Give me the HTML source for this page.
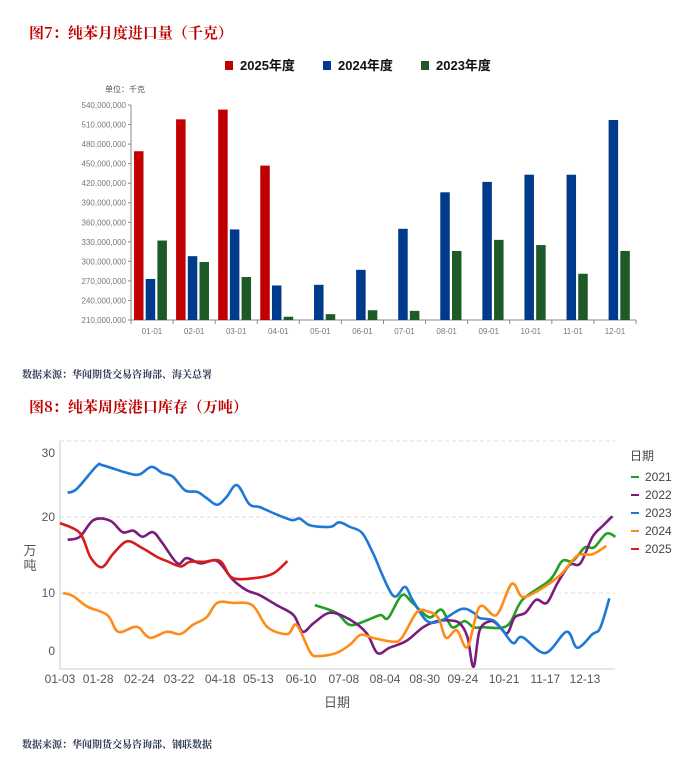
<!DOCTYPE html>
<html><head><meta charset="utf-8">
<style>
body{margin:0;width:692px;height:762px;background:#fff;overflow:hidden;font-family:"Liberation Sans","Noto Sans CJK SC",sans-serif;}
svg{position:absolute;left:0;top:0}
.t{font-family:"Noto Serif CJK SC","Noto Sans CJK SC",serif;font-weight:bold}
</style></head>
<body>
<svg id="s" width="692" height="762" xmlns="http://www.w3.org/2000/svg">
<text x="29" y="38" class="t" font-size="15" fill="#c00000">图7：纯苯月度进口量（千克）</text>
<g font-size="13" font-weight="bold" fill="#111">
<rect x="225" y="61" width="8" height="9" fill="#c00000"/><text x="240" y="70">2025年度</text>
<rect x="323" y="61" width="8" height="9" fill="#003a8c"/><text x="338" y="70">2024年度</text>
<rect x="421" y="61" width="8" height="9" fill="#1e5a28"/><text x="436" y="70">2023年度</text>
</g>
<text x="105" y="92" font-size="8" fill="#555">单位：千克</text>
<g id="bars"></g>
<text x="22" y="378" class="t" font-size="10" fill="#2a3550">数据来源：华闻期货交易咨询部、海关总署</text>
<text x="29" y="412" class="t" font-size="15" fill="#c00000">图8：纯苯周度港口库存（万吨）</text>
<g id="lines"></g>
<text x="22" y="748" class="t" font-size="10" fill="#2a3550">数据来源：华闻期货交易咨询部、钢联数据</text>
</svg>
<script>
// ---- bar chart data (million kg) ----
const months=["01-01","02-01","03-01","04-01","05-01","06-01","07-01","08-01","09-01","10-01","11-01","12-01"];
const y2025=[469,518,533,447,null,null,null,null,null,null,null,null];
const y2024=[273,308,349,263,264,287,350,406,422,433,433,517];
const y2023=[332,299,276,215,219,225,224,316,333,325,281,316];
const barTicks=[540,510,480,450,420,390,360,330,300,270,240,210];

// ---- line chart data ----
const xTickDays=[3,28,55,81,108,133,161,189,216,242,267,294,321,347];
const xTickLabels=["01-03","01-28","02-24","03-22","04-18","05-13","06-10","07-08","08-04","08-30","09-24","10-21","11-17","12-13"];
const yTicks=[0,10,20,30];
const d2021=[170,184,193,204,213,218,227,234,245,253,260,268,274,280,296,306,324,332,339,347,353,361,367];
const v2021=[8.4,7.4,5.8,6.4,7.1,6.7,9.7,8.7,6.8,7.8,5.5,6.3,5.5,5.5,5.7,9.1,11.7,14.2,14.2,16,16,17.8,17.4];
const d2022=[8,16,25,36,44,51,57,64,70,80,86,95,106,116,125,134,145,156,162,169,180,193,204,211,219,230,241,250,258,265,270,274,278,285,290,296,301,308,315,322,329,337,344,352,359,365];
const v2022=[17,17.4,19.6,19.5,18,18.2,17.4,18,16.6,13.9,14.6,13.9,14.2,11.8,10.4,9.7,8.4,7.1,4.9,6,7.4,6.5,4.7,2.1,2.8,3.7,5.5,6.3,6.4,6,4.2,0.3,5.1,6.3,5.8,4.7,6.8,7.4,9.1,8.7,11.3,13.7,13.9,17.4,18.9,20.1];
const d2023=[8,14,27,31,47,55,63,70,77,85,93,99,106,112,119,127,134,143,155,160,167,180,186,193,201,208,221,229,234,243,252,266,274,278,287,293,300,306,321,335,342,352,357,363];
const v2023=[23.2,23.7,26.7,26.8,25.8,25.6,26.6,25.8,25.3,23.5,23.3,22.5,21.6,22.6,24.2,21.7,21.3,20.5,19.6,19.8,18.9,18.7,19.3,18.7,17.9,15.3,9.7,10.8,9.1,6.4,6.3,7.9,7.4,6.7,6.4,5.1,3.4,4.2,2.1,4.9,2.8,4.6,5.4,9.3];
const d2024=[5,11.5,21,34,41,51,55,62,73,82,90,99,106,116,129,139,152,158,167,172,184,193,200,208,221,227,237,245,251,256,263,270,278,289,299,306,317,331,342,352,361];
const v2024=[10,9.6,8.2,7.1,4.9,5.5,5.4,4.1,4.9,4.6,5.8,6.8,8.7,8.7,8.4,5.5,4.6,5.8,2.2,1.7,2.1,3.2,4.5,4.1,3.6,4.1,7.5,7.5,6.7,4.1,5.1,2.9,8.2,7.1,11.2,9.5,10.4,12.4,14.9,15.1,16.2];
const d2025=[3,16,23,30.5,38,47,57,67,73,82,88,97,108,116,132,143,152];
const v2025=[19.2,17.9,14.7,13.4,15.2,16.8,15.9,14.7,14.2,13.5,14.1,14.1,14.2,12,12,12.6,14.2];

const NS="http://www.w3.org/2000/svg";
function mk(tag,attrs,parent){const e=document.createElementNS(NS,tag);for(const k in attrs)e.setAttribute(k,attrs[k]);parent.appendChild(e);return e;}

// bar chart
const bars=document.getElementById('bars');
const bx0=131,bx1=636,by=v=>320-(v-210)*0.6515,bw=(bx1-bx0)/12;
barTicks.forEach(t=>{
 const tx=mk('text',{x:bx0-5,y:by(t)+3,'text-anchor':'end','font-size':'8','fill':'#777'},bars);
 tx.textContent=t+",000,000";
 
 
 mk('line',{x1:bx0-3,x2:bx0,y1:by(t),y2:by(t),stroke:'#888'},bars);
});
mk('line',{x1:bx0,x2:bx0,y1:by(540),y2:by(210),stroke:'#888'},bars);
mk('line',{x1:bx0,x2:bx1,y1:by(210),y2:by(210),stroke:'#888'},bars);
const series=[[y2025,'#c00000','bar-2025'],[y2024,'#003a8c','bar-2024'],[y2023,'#1e5a28','bar-2023']];
months.forEach((m,i)=>{
 const cx=bx0+i*bw;
 mk('line',{x1:cx,x2:cx,y1:by(210),y2:by(210)+4,stroke:'#888'},bars);
 const tx=mk('text',{x:cx+bw/2,y:334,'text-anchor':'middle','font-size':'8','fill':'#777'},bars);
 tx.textContent=m;
 
 
 series.forEach((s,j)=>{
  const v=s[0][i]; if(v==null)return;
  const r=mk('rect',{x:cx+3+j*11.7,y:by(v),width:9.5,height:by(210)-by(v),fill:s[1]},bars);
  
  
 });
});
mk('line',{x1:bx1,x2:bx1,y1:by(210),y2:by(210)+4,stroke:'#888'},bars);

// line chart
const L=document.getElementById('lines');
const lx=d=>60+(d-3)*1.526, ly=v=>669-v*7.6;
[10,20,30].forEach(v=>mk('line',{x1:60,x2:615,y1:ly(v),y2:ly(v),stroke:'#ddd','stroke-dasharray':'4,3'},L));
const yLabPos={0:655,10:597,20:521,30:457};
yTicks.forEach(v=>{
 const tx=mk('text',{x:55,y:yLabPos[v],'text-anchor':'end','font-size':'12','fill':'#555'},L);
 tx.textContent=v;
 
 
});
mk('line',{x1:60,x2:60,y1:441,y2:669,stroke:'#ccc'},L);
mk('line',{x1:60,x2:615,y1:669,y2:669,stroke:'#ccc'},L);
xTickDays.forEach((d,i)=>{
 const tx=mk('text',{x:lx(d),y:683,'text-anchor':'middle','font-size':'12','fill':'#555'},L);
 tx.textContent=xTickLabels[i];
 
 
});
const xt=mk('text',{x:337,y:707,'text-anchor':'middle','font-size':'13','fill':'#555'},L);xt.textContent='日期';


const yt1=mk('text',{x:30,y:555,'text-anchor':'middle','font-size':'13','fill':'#555'},L);yt1.textContent='万';


const yt2=mk('text',{x:30,y:570,'text-anchor':'middle','font-size':'13','fill':'#555'},L);yt2.textContent='吨';
function smooth(pts){let d='M'+pts[0][0]+','+pts[0][1];
 for(let i=0;i<pts.length-1;i++){const p0=pts[i-1]||pts[i],p1=pts[i],p2=pts[i+1],p3=pts[i+2]||p2;
  d+=' C'+(p1[0]+(p2[0]-p0[0])/6)+','+(p1[1]+(p2[1]-p0[1])/6)+' '+(p2[0]-(p3[0]-p1[0])/6)+','+(p2[1]-(p3[1]-p1[1])/6)+' '+p2[0]+','+p2[1];}
 return d;}
const lseries=[[d2021,v2021,'#22a022','2021'],[d2022,v2022,'#7a1c7e','2022'],[d2023,v2023,'#1f78d6','2023'],[d2024,v2024,'#ff8c1a','2024'],[d2025,v2025,'#d61c1c','2025']];
lseries.forEach(s=>{
 const pts=s[0].map((d,i)=>[lx(d),ly(s[1][i])]);
 const p=mk('path',{d:smooth(pts),fill:'none',stroke:s[2],'stroke-width':'2.6','stroke-linejoin':'round'},L);
 
 
});
const lt=mk('text',{x:630,y:460,'font-size':'12','fill':'#444'},L);lt.textContent='日期';


lseries.forEach((s,i)=>{
 const y=477+i*18;
 mk('line',{x1:631,x2:639,y1:y,y2:y,stroke:s[2],'stroke-width':'2'},L);
 const tx=mk('text',{x:645,y:y+4,'font-size':'12','fill':'#444'},L);tx.textContent=s[3];
 
 
});
</script>
</body></html>
